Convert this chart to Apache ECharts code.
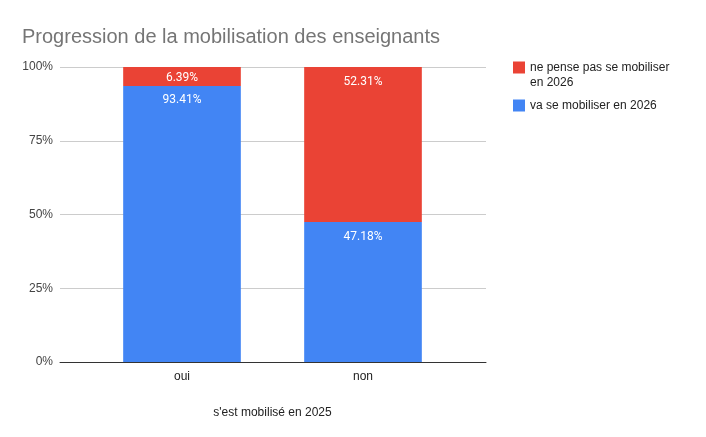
<!DOCTYPE html>
<html><head><meta charset="utf-8">
<script src="https://cdn.jsdelivr.net/npm/echarts@6/dist/echarts.min.js"></script>
<style>html,body{margin:0;padding:0;background:#fff}#c{width:706px;height:437px}</style>
</head><body><div id="c"></div>
<script>
const categories = ['oui', 'non'];
const vaSeMobiliser = [93.41, 47.18];
const nePensePas = [6.39, 52.31];
const yTicks = ['0%', '25%', '50%', '75%', '100%'];
const seriesNames = ['ne pense pas se mobiliser en 2026', 'va se mobiliser en 2026'];

const totals = categories.map((c, i) => vaSeMobiliser[i] + nePensePas[i]);
const toData = (arr) => arr.map((v, i) => {
  const n = v / totals[i] * 100;
  return n < 10 ? { value: n, label: { position: 'inside', offset: [0, 1.5] } } : n;
});

const chart = echarts.init(document.getElementById('c'));
const labelStyle = (raw) => ({
  show: true, position: 'insideTop', distance: 8.5, color: '#fff',
  fontFamily: 'Roboto', fontSize: 12,
  formatter: p => raw[p.dataIndex].toFixed(2) + '%'
});
const F = 'Liberation Sans, Arial';
chart.setOption({
  animation: false,
  title: {
    text: 'Progression de la mobilisation des enseignants',
    left: 17, top: 22,
    textStyle: { fontFamily: F, fontSize: 20, fontWeight: 'normal', color: '#757575' }
  },
  legend: {
    orient: 'vertical', left: 508, top: 40,
    itemWidth: 12, itemHeight: 12, itemGap: 11,
    icon: 'rect',
    data: [seriesNames[0], seriesNames[1]],
    formatter: n => n === seriesNames[0]
      ? '{s| }\n{a|ne pense pas se mobiliser}\n{a|en 2026}'
      : '{a|' + n + '}',
    textStyle: {
      fontFamily: F, fontSize: 12, color: '#222',
      rich: {
        a: { fontFamily: F, fontSize: 12, color: '#222', lineHeight: 15 },
        s: { fontSize: 12, lineHeight: 15, height: 15 }
      }
    }
  },
  grid: [
    { left: 60, right: 220, top: 67, bottom: 75 },
    { left: 91.5, right: 252.5, top: 67, bottom: 75 }
  ],
  xAxis: [
    { type: 'category', gridIndex: 0, data: categories, axisLabel: { show: false }, axisTick: { show: false },
      axisLine: { lineStyle: { color: '#333', width: 1 } } },
    { type: 'category', gridIndex: 1, data: categories, axisTick: { show: false }, axisLine: { show: false },
      axisLabel: { color: '#222', fontFamily: F, fontSize: 12, margin: 9 },
      name: "s'est mobilisé en 2025", nameLocation: 'middle', nameGap: 45,
      nameTextStyle: { color: '#222', fontFamily: F, fontSize: 12 } }
  ],
  yAxis: [
    { type: 'value', gridIndex: 0, min: 0, max: 100, interval: 25,
      axisLabel: { formatter: v => yTicks[v / 25], color: '#444', fontFamily: F, fontSize: 12, margin: 7 },
      splitLine: { lineStyle: { color: '#ccc' } }, axisLine: { show: false }, axisTick: { show: false } },
    { type: 'value', gridIndex: 1, min: 0, max: 100, show: false, splitLine: { show: false } }
  ],
  series: [
    { name: seriesNames[1], type: 'bar', stack: 's', xAxisIndex: 1, yAxisIndex: 1, barWidth: '65%',
      data: toData(vaSeMobiliser), itemStyle: { color: '#4285F4' }, label: labelStyle(vaSeMobiliser), z: 3 },
    { name: seriesNames[0], type: 'bar', stack: 's', xAxisIndex: 1, yAxisIndex: 1, barWidth: '65%',
      data: toData(nePensePas), itemStyle: { color: '#EA4335' }, label: labelStyle(nePensePas), z: 3 }
  ]
});
</script></body></html>
